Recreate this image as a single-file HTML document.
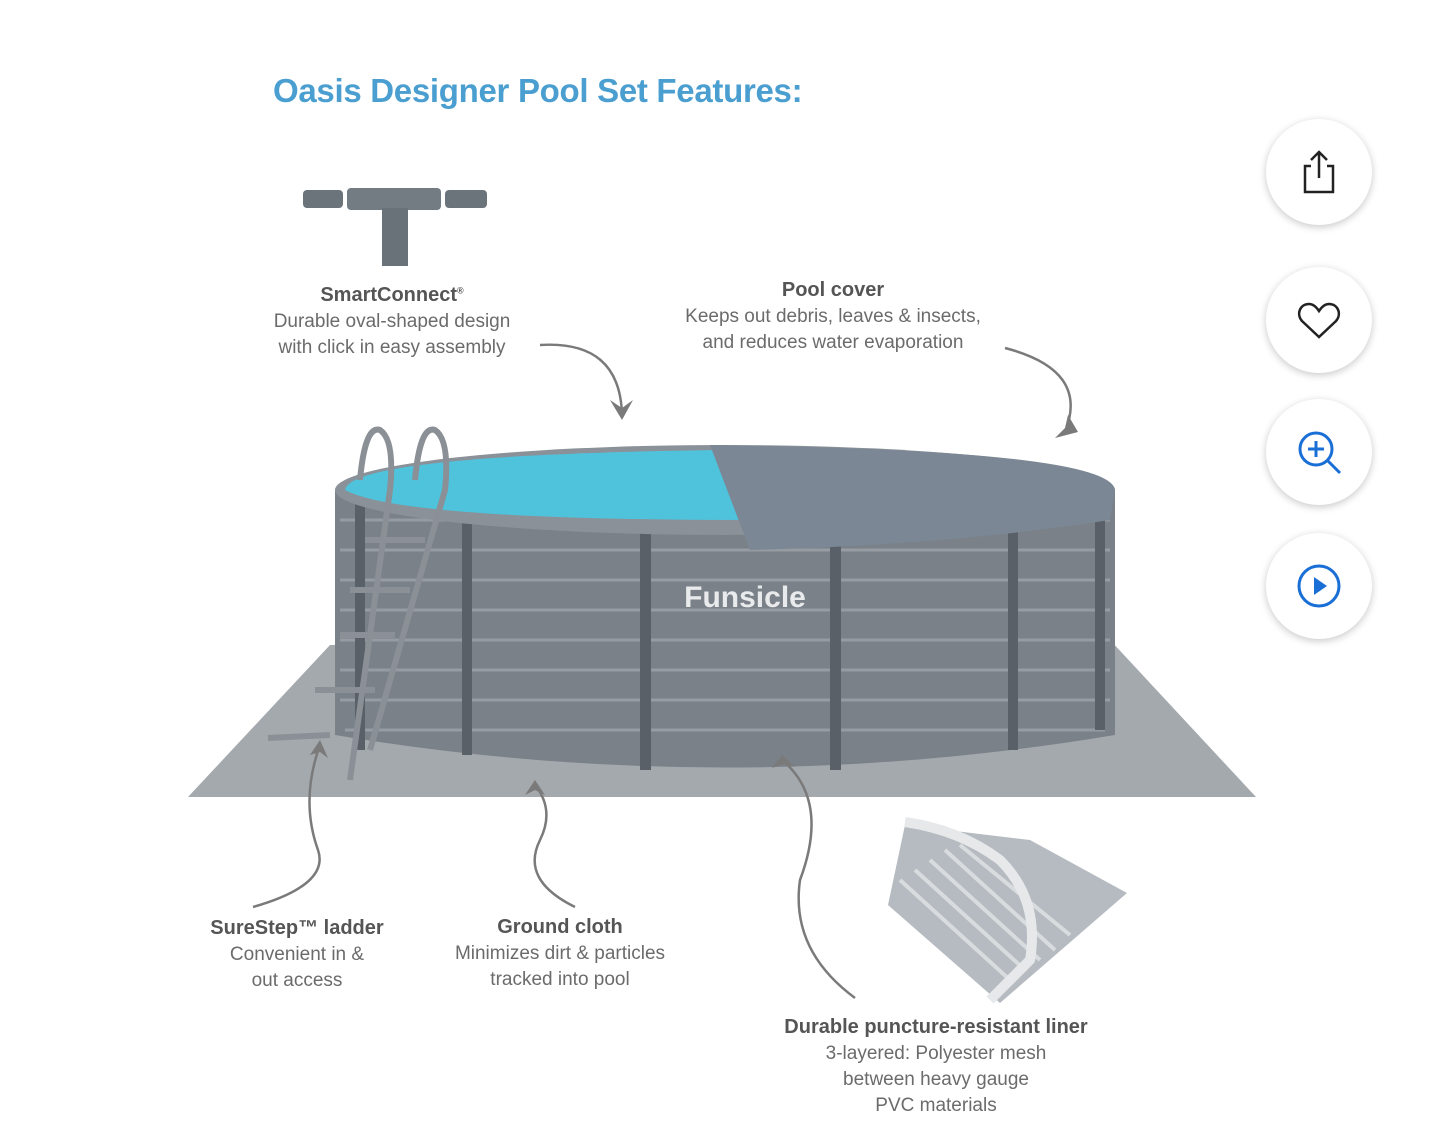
<!DOCTYPE html>
<html><head><meta charset="utf-8"><style>
body{margin:0;width:1440px;height:1139px;background:#fff;position:relative;overflow:hidden;font-family:"Liberation Sans",sans-serif}
.t{position:absolute;text-align:center;color:#6b6b6b;font-size:19px;line-height:26px;transform:translateX(-50%);white-space:nowrap}
.t b{color:#555;font-size:20px}
.btn{position:absolute;left:1266px;width:106px;height:106px;border-radius:50%;background:#fff;box-shadow:0 2px 8px rgba(0,0,0,.22)}
.btn svg{position:absolute;left:28px;top:28px}
</style></head><body>
<div style="position:absolute;left:273px;top:72px;font-size:33px;font-weight:bold;color:#4a9fd0;letter-spacing:-0.3px">Oasis Designer Pool Set Features:</div>

<div class="btn" style="top:119px"><svg width="50" height="50" viewBox="0 0 50 50" fill="none" stroke="#222" stroke-width="2.5"><path d="M17 19H11V45H39V19H33M25 31V6M17 13L25 5L33 13"/></svg></div>
<div class="btn" style="top:267px"><svg width="50" height="50" viewBox="0 0 50 50" fill="none" stroke="#222" stroke-width="2.5"><path d="M25 42L8 26C2 19 6 9 15 9C20 9 23 13 25 16C27 13 30 9 35 9C44 9 48 19 42 26Z"/></svg></div>
<div class="btn" style="top:399px"><svg width="50" height="50" viewBox="0 0 50 50" fill="none" stroke="#1a6fd6" stroke-width="3"><circle cx="22" cy="22" r="16"/><path d="M34 34L46 46M22 14V30M14 22H30"/></svg></div>
<div class="btn" style="top:533px"><svg width="50" height="50" viewBox="0 0 50 50"><circle cx="25" cy="25" r="20" fill="none" stroke="#1a6fd6" stroke-width="3"/><path d="M20 16L33 25L20 34Z" fill="#1a6fd6"/></svg></div>

<svg width="1440" height="1139" style="position:absolute;left:0;top:0">
<rect x="303" y="190" width="40" height="18" rx="4" fill="#6c747b"/>
<rect x="347" y="188" width="94" height="22" rx="4" fill="#737b83"/>
<rect x="445" y="190" width="42" height="18" rx="4" fill="#6c747b"/>
<rect x="382" y="208" width="26" height="58" fill="#6a7279"/>
<polygon points="188,797 1256,797 1110,640 330,645" fill="#a4a9ae"/>
<path d="M335 490 L335 735 Q725 800 1115 735 L1115 490 Z" fill="#7a8188"/>
<g stroke="#a2a8ad" stroke-width="3" opacity=".7">
<path d="M340 520 H1110 M340 550 H1110 M340 580 H1110 M340 610 H1110 M340 640 H1110 M340 670 H1110 M340 700 H1110 M345 730 H1105"/>
</g>
<g fill="#596067">
<rect x="355" y="485" width="10" height="265"/><rect x="462" y="500" width="10" height="255"/>
<rect x="640" y="510" width="11" height="260"/><rect x="830" y="510" width="11" height="260"/>
<rect x="1008" y="500" width="10" height="250"/><rect x="1095" y="490" width="10" height="240"/>
</g>
<ellipse cx="725" cy="490" rx="390" ry="45" fill="#8a9198"/>
<path d="M345 490 Q350 455 720 450 L750 520 Q400 520 345 490Z" fill="#4fc3dc"/>
<path d="M710 445 Q1110 450 1115 490 L1110 520 Q950 545 750 550 Z" fill="#7b8794"/>
<text x="745" y="607" font-family="Liberation Sans" font-size="30" fill="#e8eaec" text-anchor="middle" font-weight="bold">Funsicle</text>
<g stroke="#8a9096" stroke-width="6" fill="none">
<path d="M360 480 Q365 425 380 430 Q395 440 390 490 L350 780 M415 480 Q420 425 435 430 Q450 440 445 490 L370 750"/>
<path d="M365 540 H425 M350 590 H410 M340 635 H395 M315 690 H375 M268 738 L330 735"/>
</g>
<polygon points="905,825 1030,840 1127,893 1000,1003 888,905" fill="#b5bbc0"/>
<g stroke="#d8dcdf" stroke-width="4"><path d="M900 880 L1010 980 M915 870 L1025 970 M930 860 L1040 960 M945 850 L1055 950 M960 845 L1070 935"/></g>
<path d="M905 822 Q960 830 1000 860 Q1040 900 1030 960 L990 1000" fill="none" stroke="#e6e8ea" stroke-width="10"/>
<g stroke="#7a7a7a" stroke-width="2.5" fill="none">
<path d="M540 345 Q620 340 622 415"/><path d="M1005 348 Q1090 370 1065 432"/>
<path d="M253 907 Q330 885 318 850 Q300 800 320 745"/>
<path d="M575 907 Q520 880 540 840 Q555 810 535 785"/>
<path d="M855 998 Q790 950 800 880 Q830 800 782 760"/>
</g>
<g fill="#7a7a7a">
<path d="M610 400 L622 420 L633 400 L622 408Z"/><path d="M1055 438 L1078 432 L1068 415 L1065 428Z"/>
<path d="M310 755 L320 740 L328 758 L320 752Z"/><path d="M525 795 L535 780 L545 795 L535 790Z"/><path d="M772 768 L782 755 L795 767 L784 764Z"/>
</g>
</svg>

<div class="t" style="left:392px;top:277px"><b>SmartConnect<sup style="font-size:9px">®</sup></b><br>Durable oval-shaped design<br>with click in easy assembly</div>
<div class="t" style="left:833px;top:277px"><b>Pool cover</b><br>Keeps out debris, leaves &amp; insects,<br>and reduces water evaporation</div>
<div class="t" style="left:297px;top:915px"><b>SureStep™ ladder</b><br>Convenient in &amp;<br>out access</div>
<div class="t" style="left:560px;top:914px"><b>Ground cloth</b><br>Minimizes dirt &amp; particles<br>tracked into pool</div>
<div class="t" style="left:936px;top:1014px"><b>Durable puncture-resistant liner</b><br>3-layered: Polyester mesh<br>between heavy gauge<br>PVC materials</div>
</body></html>
